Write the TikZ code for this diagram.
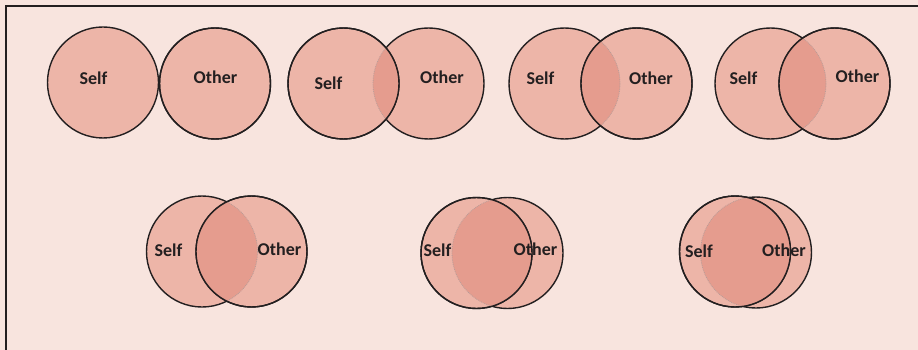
\documentclass[tikz,border=0pt]{standalone}
\usepackage{fontspec}
\setmainfont{Carlito}
\definecolor{page}{HTML}{F8E4DE}
\definecolor{disc}{HTML}{EDB5A8}
\definecolor{overlap}{HTML}{E59C8E}
\definecolor{ink}{HTML}{231F20}
\definecolor{seam}{HTML}{B89C98}
% one pair of discs: #1 lower disc name, #2 its centre, #3 upper disc name, #4 its centre
\newcommand\vennpair[4]{%
  \node[discnode] (#1) at (#2) {};
  \node[discnode] (#3) at (#4) {};
  \begin{scope}
    \clip (#3.center) circle (55.5pt);
    \fill[overlap] (#1.center) circle (55.5pt);
    \draw[seam,line width=0.8pt,densely dotted] (#1.center) circle (55.5pt);
  \end{scope}
  \draw[ink,line width=1.4pt] (#3.center) circle (55.5pt);
}
\begin{document}
\begin{tikzpicture}[x=1pt,y=-1pt,
  discnode/.style={circle,minimum size=111pt,inner sep=0pt,outer sep=0pt,
    fill=disc,draw=ink,line width=1.4pt},
  lbl/.style={font=\fontsize{18}{20}\selectfont\bfseries,text=ink,inner sep=0pt}]
\useasboundingbox (0,0) rectangle (918,350);
\clip (0,0) rectangle (918,350);
\fill[page] (0,0) rectangle (918,350);
\draw[ink,line width=1.6pt] (6,360) -- (6,6) -- (930,6);

% top row
\vennpair{s1}{103,82.5}{o1}{215,83.5}
\vennpair{o2}{428.5,83.5}{s2}{343.5,83.5}
\vennpair{s3}{564.5,83.5}{o3}{636.5,83.5}
\vennpair{s4}{770.5,83.5}{o4}{834.5,83.5}
% bottom row
\vennpair{s5}{202,251.5}{o5}{251.5,251.5}
\vennpair{o6}{507.5,253}{s6}{476.5,253}
\vennpair{o7}{756,252.5}{s7}{735,251.5}

% labels
\node[lbl] (ls1) at (93.5,78) {Self};
\node[lbl] (lo1) at (215.5,77) {Other};
\node[lbl] (ls2) at (328.5,83) {Self};
\node[lbl] (lo2) at (442,77) {Other};
\node[lbl] (ls3) at (540.5,78) {Self};
\node[lbl] (lo3) at (651,78) {Other};
\node[lbl] (ls4) at (743.5,78) {Self};
\node[lbl] (lo4) at (857.5,76) {Other};
\node[lbl] (ls5) at (168.5,250) {Self};
\node[lbl] (lo5) at (279.5,249) {Other};
\node[lbl] (ls6) at (437.5,250) {Self};
\node[lbl] (lo6) at (535.5,249) {Other};
\node[lbl] (ls7) at (699,251) {Self};
\node[lbl] (lo7) at (784,250) {Other};
\end{tikzpicture}
\end{document}
